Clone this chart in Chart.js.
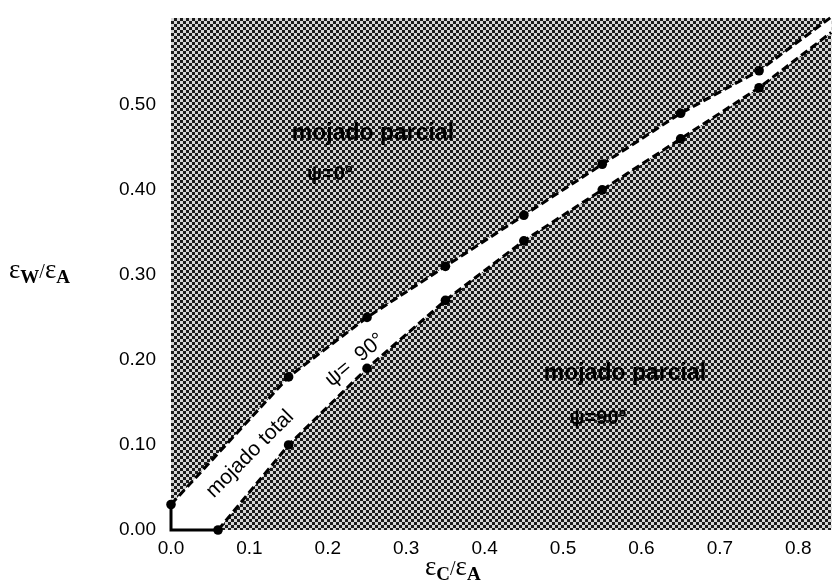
<!DOCTYPE html>
<html>
<head>
<meta charset="utf-8">
<script src="https://cdn.jsdelivr.net/npm/chart.js@4/dist/chart.umd.min.js"></script>
<style>
  html, body { margin: 0; padding: 0; background: #fff; }
  #wrap { width: 836px; height: 583px; position: relative; }
</style>
</head>
<body>
<div id="wrap"><canvas id="myChart"></canvas></div>
<script>
'use strict'

// boundary between "mojado total" and the upper "mojado parcial" region
const upperX = [0, 0.15, 0.25, 0.35, 0.45, 0.55, 0.65, 0.75, 0.842]
const upperY = [0.03, 0.18, 0.25, 0.31, 0.37, 0.43, 0.49, 0.54, 0.603]
// boundary between "mojado total" and the lower "mojado parcial" region
const lowerX = [0.06, 0.15, 0.25, 0.35, 0.45, 0.55, 0.65, 0.75, 0.842]
const lowerY = [0.00, 0.10, 0.19, 0.27, 0.34, 0.40, 0.46, 0.52, 0.585]
// solid corner along the axes
const cornerX = [0, 0, 0.06]
const cornerY = [0.03, 0, 0]

const xTicks = [0, 0.1, 0.2, 0.3, 0.4, 0.5, 0.6, 0.7, 0.8]
const yTicks = [0, 0.1, 0.2, 0.3, 0.4, 0.5]
const xMax = 0.842
const yMax = 0.602

const toPts = (xs, ys) => xs.map((x, i) => ({ x: x, y: ys[i] }))

// white band = upper line, then lower line back to the origin
const bandPts = toPts(cornerX.slice(0, 2), cornerY.slice(0, 2)).reverse()
  .concat(toPts(upperX, upperY))
  .concat(toPts(lowerX, lowerY).reverse())
  .concat([{ x: cornerX[1], y: cornerY[1] }])

const FONT = "'Liberation Sans', Arial, Helvetica, sans-serif"
const SERIF = "'Liberation Serif', 'DejaVu Serif', serif"

function makeHatch(ctx) {
  const c = document.createElement('canvas')
  c.width = 6
  c.height = 6
  const g = c.getContext('2d')
  g.fillStyle = '#d6d6d6'
  g.fillRect(0, 0, 6, 6)
  g.fillStyle = '#1c1c1c'
  g.fillRect(0, 0, 3, 3)
  g.fillRect(3, 3, 3, 3)
  return ctx.createPattern(c, 'repeat')
}

const hatchPlugin = {
  id: 'hatch',
  beforeDatasetsDraw(chart) {
    const a = chart.chartArea
    const ctx = chart.ctx
    ctx.save()
    ctx.fillStyle = makeHatch(ctx)
    ctx.fillRect(a.left, a.top, a.right - a.left, a.bottom - a.top)
    ctx.restore()
  }
}

function label(ctx, text, x, y, font, angle) {
  ctx.save()
  ctx.translate(x, y)
  ctx.rotate(angle * Math.PI / 180)
  ctx.font = font
  ctx.fillStyle = '#000'
  ctx.textAlign = 'center'
  ctx.textBaseline = 'middle'
  ctx.fillText(text, 0, 0)
  ctx.restore()
}

const textPlugin = {
  id: 'texts',
  afterDraw(chart) {
    const ctx = chart.ctx
    // region labels
    label(ctx, 'mojado parcial', 373, 134, 'bold 23px ' + FONT, 0)
    label(ctx, 'ψ=0°', 330, 174, 'bold 20px ' + FONT, 0)
    label(ctx, 'mojado parcial', 625, 374, 'bold 23px ' + FONT, 0)
    label(ctx, 'ψ=90°', 598, 418, 'bold 20px ' + FONT, 0)
    label(ctx, 'mojado total', 250, 454, '21px ' + FONT, -45)
    label(ctx, 'ψ=  90°', 355, 360, '21px ' + FONT, -40)

    // axis titles: εW/εA and εC/εA with bold serif subscripts
    const title = (x, y, sub1, sub2) => {
      ctx.save()
      ctx.fillStyle = '#000'
      ctx.textBaseline = 'alphabetic'
      ctx.textAlign = 'left'
      const big = '27px ' + SERIF
      const small = 'bold 19px ' + SERIF
      let cx = x
      const put = (t, f, dy) => {
        ctx.font = f
        ctx.fillText(t, cx, y + dy)
        cx += ctx.measureText(t).width
      }
      put('ε', big, 0)
      put(sub1, small, 5)
      put('/', '20px ' + SERIF, 0)
      put('ε', big, 0)
      put(sub2, small, 5)
      ctx.restore()
    }
    title(9, 278, 'W', 'A')
    title(425, 575, 'C', 'A')
  }
}

const dashed = {
  borderColor: '#000',
  borderWidth: 3,
  borderDash: [8, 4],
  backgroundColor: '#000',
  pointBackgroundColor: '#000',
  pointBorderWidth: 0,
  fill: false,
  tension: 0,
  order: 1,
  clip: 8
}

const lastless = n => ctx => (ctx.dataIndex === n - 1 ? 0 : 4.8)

const noPad = s => {
  s.paddingTop = 0
  s.paddingBottom = 0
  s.paddingLeft = 0
  s.paddingRight = 0
}

new Chart(document.querySelector('#myChart'), {
  type: 'line',
  data: {
    datasets: [
      {
        label: 'band',
        data: bandPts,
        borderWidth: 0,
        pointRadius: 0,
        backgroundColor: '#fff',
        fill: 'shape',
        tension: 0,
        order: 5
      },
      Object.assign({ label: 'upper', data: toPts(upperX, upperY), pointRadius: lastless(upperX.length) }, dashed),
      Object.assign({ label: 'lower', data: toPts(lowerX, lowerY), pointRadius: lastless(lowerX.length) }, dashed),
      {
        label: 'corner',
        data: toPts(cornerX, cornerY),
        borderColor: '#000',
        borderWidth: 3,
        pointRadius: 0,
        fill: false,
        tension: 0,
        order: 1,
        clip: 8
      }
    ]
  },
  options: {
    responsive: true,
    maintainAspectRatio: false,
    animation: false,
    layout: { padding: { top: 18, right: 0, left: 0, bottom: 0 } },
    plugins: {
      legend: { display: false },
      tooltip: { enabled: false }
    },
    scales: {
      x: {
        type: 'linear',
        min: 0,
        max: xMax,
        grid: { display: false, drawTicks: false },
        border: { display: false },
        afterBuildTicks: s => { s.ticks = xTicks.map(v => ({ value: v })) },
        afterFit: s => { s.height = 53; noPad(s) },
        ticks: {
          color: '#000',
          padding: 7,
          font: { family: FONT, size: 19 },
          callback: v => Number(v).toFixed(1)
        }
      },
      y: {
        type: 'linear',
        min: 0,
        max: yMax,
        grid: { display: false, drawTicks: false },
        border: { display: false },
        afterBuildTicks: s => { s.ticks = yTicks.map(v => ({ value: v })) },
        afterFit: s => { s.width = 171; noPad(s) },
        ticks: {
          color: '#000',
          padding: 15,
          font: { family: FONT, size: 19 },
          callback: v => Number(v).toFixed(2)
        }
      }
    }
  },
  plugins: [hatchPlugin, textPlugin]
})
</script>
</body>
</html>
